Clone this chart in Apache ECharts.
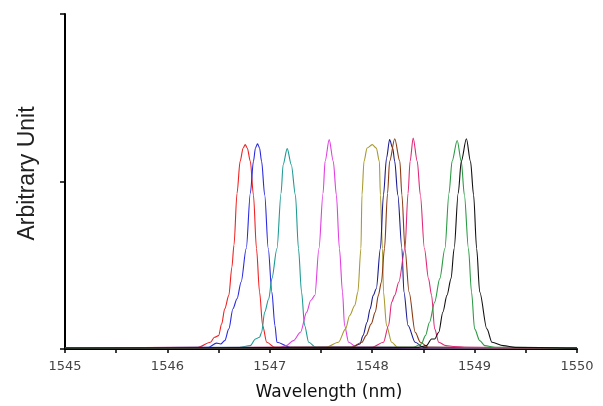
<!DOCTYPE html>
<html>
<head>
<meta charset="utf-8">
<script src="https://cdn.jsdelivr.net/npm/echarts@6/dist/echarts.min.js"></script>
<style>html,body{margin:0;padding:0;background:#fff;}#c{width:603px;height:406px;}</style>
</head>
<body>
<div id="c"></div>
<script>
const xTicks = [1545, 1546, 1547, 1548, 1549, 1550];
const red = [[1545,0.005],[1546.3,0.01],[1546.42,0.04],[1546.46,0.07],[1546.5,0.08],[1546.53,0.15],[1546.56,0.24],[1546.6,0.32],[1546.63,0.49],[1546.65,0.62],[1546.68,0.93],[1546.71,1.12],[1546.74,1.2],[1546.76,1.22],[1546.78,1.2],[1546.81,1.12],[1546.84,0.92],[1546.87,0.6],[1546.9,0.34],[1546.93,0.14],[1546.97,0.04],[1547.05,0.01],[1550,0.005]];
const blue = [[1545,0.005],[1546.4,0.01],[1546.48,0.035],[1546.52,0.03],[1546.56,0.05],[1546.6,0.12],[1546.64,0.24],[1546.68,0.3],[1546.72,0.4],[1546.77,0.6],[1546.81,0.93],[1546.84,1.12],[1546.86,1.2],[1546.88,1.225],[1546.9,1.2],[1546.92,1.12],[1546.95,0.92],[1546.985,0.6],[1547.02,0.34],[1547.05,0.14],[1547.07,0.04],[1547.2,0.01],[1550,0.005]];
const teal = [[1545,0.005],[1546.7,0.01],[1546.81,0.02],[1546.86,0.06],[1546.9,0.07],[1546.92,0.1],[1546.95,0.22],[1546.99,0.3],[1547.02,0.42],[1547.07,0.6],[1547.11,0.93],[1547.13,1.1],[1547.17,1.196],[1547.21,1.1],[1547.25,0.92],[1547.28,0.6],[1547.31,0.34],[1547.34,0.14],[1547.38,0.04],[1547.45,0.01],[1550,0.005]];
const magenta = [[1545,0.005],[1547.1,0.01],[1547.16,0.02],[1547.23,0.05],[1547.3,0.1],[1547.36,0.22],[1547.4,0.29],[1547.44,0.32],[1547.48,0.6],[1547.52,0.93],[1547.54,1.12],[1547.58,1.25],[1547.62,1.12],[1547.65,0.92],[1547.68,0.6],[1547.71,0.34],[1547.73,0.14],[1547.77,0.04],[1547.85,0.01],[1550,0.005]];
const olive = [[1545,0.005],[1547.55,0.01],[1547.67,0.04],[1547.74,0.12],[1547.78,0.2],[1547.83,0.26],[1547.86,0.34],[1547.89,0.6],[1547.9,0.92],[1547.92,1.12],[1547.95,1.2],[1548.0,1.22],[1548.04,1.2],[1548.07,1.12],[1548.08,0.92],[1548.1,0.6],[1548.11,0.34],[1548.14,0.14],[1548.19,0.04],[1548.25,0.01],[1550,0.005]];
const navy = [[1545,0.005],[1547.8,0.01],[1547.88,0.03],[1547.91,0.08],[1547.95,0.16],[1547.98,0.24],[1548.01,0.32],[1548.04,0.36],[1548.08,0.6],[1548.11,0.92],[1548.14,1.14],[1548.17,1.25],[1548.2,1.2],[1548.22,1.12],[1548.25,0.92],[1548.29,0.6],[1548.31,0.34],[1548.35,0.14],[1548.42,0.04],[1548.5,0.01],[1550,0.005]];
const brown = [[1545,0.005],[1547.8,0.01],[1547.9,0.04],[1547.94,0.08],[1547.99,0.15],[1548.03,0.22],[1548.06,0.32],[1548.09,0.4],[1548.12,0.6],[1548.15,0.93],[1548.17,1.12],[1548.22,1.255],[1548.27,1.12],[1548.29,0.92],[1548.32,0.6],[1548.36,0.34],[1548.42,0.1],[1548.47,0.04],[1548.55,0.01],[1550,0.005]];
const crimson = [[1545,0.005],[1548.0,0.01],[1548.11,0.04],[1548.16,0.14],[1548.19,0.28],[1548.22,0.32],[1548.26,0.4],[1548.32,0.6],[1548.35,0.93],[1548.37,1.12],[1548.4,1.26],[1548.44,1.12],[1548.47,0.92],[1548.51,0.6],[1548.55,0.42],[1548.58,0.32],[1548.61,0.12],[1548.65,0.04],[1548.72,0.02],[1548.79,0.015],[1548.9,0.01],[1550,0.005]];
const green = [[1545,0.005],[1548.4,0.01],[1548.48,0.03],[1548.52,0.08],[1548.56,0.16],[1548.61,0.28],[1548.66,0.42],[1548.71,0.6],[1548.75,0.93],[1548.78,1.12],[1548.83,1.245],[1548.87,1.12],[1548.9,0.92],[1548.94,0.6],[1548.97,0.34],[1549.0,0.12],[1549.05,0.05],[1549.1,0.02],[1549.2,0.01],[1550,0.005]];
const black = [[1545,0.005],[1548.45,0.01],[1548.53,0.02],[1548.58,0.06],[1548.61,0.06],[1548.65,0.1],[1548.69,0.22],[1548.73,0.32],[1548.77,0.42],[1548.8,0.6],[1548.84,0.93],[1548.87,1.12],[1548.92,1.255],[1548.96,1.12],[1548.99,0.92],[1549.02,0.6],[1549.05,0.34],[1549.12,0.12],[1549.17,0.04],[1549.28,0.02],[1549.4,0.01],[1550,0.005]];

const curves = [
  {data: red, color: '#ee2222'},
  {data: blue, color: '#2a2ae0'},
  {data: teal, color: '#1f9a93'},
  {data: magenta, color: '#e03ee0'},
  {data: olive, color: '#a89a30'},
  {data: navy, color: '#1c1c90'},
  {data: brown, color: '#8a3a14'},
  {data: crimson, color: '#e02a78'},
  {data: green, color: '#2c9a44'},
  {data: black, color: '#111111'}
];

const chart = echarts.init(document.getElementById('c'), null, {renderer: 'canvas'});
chart.setOption({
  animation: false,
  backgroundColor: '#ffffff',
  grid: {left: 65, right: 26, top: 14, bottom: 52, containLabel: false},
  xAxis: {
    type: 'value', min: 1545, max: 1550, interval: 0.5,
    name: 'Wavelength (nm)', nameLocation: 'middle', nameGap: 35,
    nameTextStyle: {fontFamily: 'DejaVu Sans', fontSize: 17, color: '#111', padding: [0, 0, 0, 16]},
    axisLine: {show: true, lineStyle: {color: '#000', width: 2}},
    axisTick: {show: true, inside: false, length: 4, lineStyle: {color: '#000', width: 1.5}},
    axisLabel: {
      margin: 11, fontFamily: 'DejaVu Sans', fontSize: 13, color: '#444',
      formatter: function (v) { return xTicks.indexOf(v) >= 0 ? String(v) : ''; }
    },
    splitLine: {show: false}
  },
  yAxis: {
    type: 'value', min: 0, max: 2, interval: 1,
    name: 'Arbitrary Unit', nameLocation: 'middle', nameGap: 26,
    nameTextStyle: {fontFamily: 'Liberation Sans', fontSize: 23, color: '#222', padding: [0, 0, 0, 16]},
    axisLine: {show: true, lineStyle: {color: '#000', width: 2}},
    axisTick: {show: true, inside: false, length: 5, lineStyle: {color: '#000', width: 1.5}},
    axisLabel: {show: false},
    splitLine: {show: false}
  },
  series: curves.map(function (c) {
    return {
      type: 'line', data: c.data, showSymbol: false, smooth: 0.3, smoothMonotone: 'x',
      lineStyle: {color: c.color, width: 1.1}, itemStyle: {color: c.color}, z: 2
    };
  })
});
</script>
</body>
</html>
